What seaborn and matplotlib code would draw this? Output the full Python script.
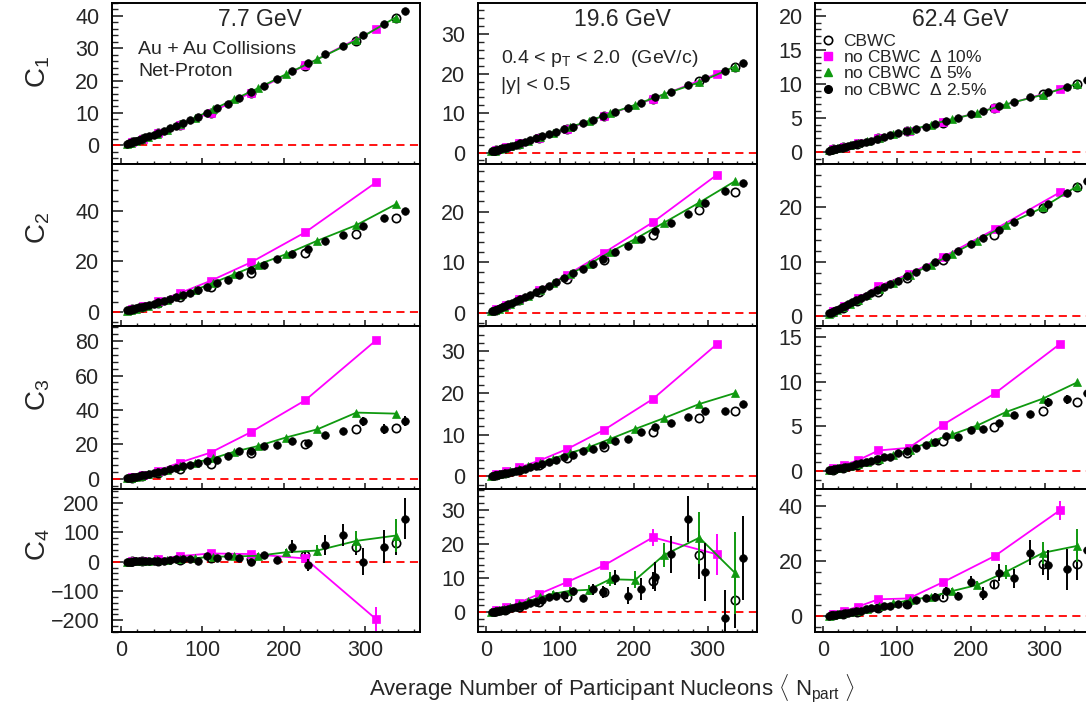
import matplotlib
matplotlib.use('Agg')
import matplotlib.pyplot as plt
from matplotlib.lines import Line2D
from matplotlib.ticker import MultipleLocator
import seaborn as sns

# ---- centrality bin positions (<Npart>) ----
npart_cbwc = [337, 289, 226, 160, 110, 72, 45, 26, 14]
npart_d10 = [313, 226, 160, 110, 72, 45, 27, 14]
npart_d5 = [337, 289, 241, 202, 168, 139, 113, 91, 73, 57, 44, 33, 24.5, 18, 12, 7]
npart_d25 = [348, 323, 297, 273, 250, 229, 210, 192, 175, 159, 145, 131, 118, 106, 95, 85,
             76, 68, 60, 53, 46, 40, 35, 30, 26, 22, 19, 16, 14, 12, 10, 8]

npart_cbwc_624 = [344, 298, 232, 163, 114, 75, 46, 27, 14]
npart_d10_624 = [321, 233, 163, 116, 75, 47, 28, 14]
npart_d5_624 = [344, 298, 248, 209, 175, 146, 118, 95, 76, 60, 47, 36, 27, 19, 13, 8]
npart_d25_624 = [357, 331, 305, 280, 258, 238, 217, 200, 183, 167, 152, 139, 126, 113, 101, 91,
                 82, 73, 65, 58, 51, 45, 39, 34, 29, 25, 21, 18, 15, 12.5, 10, 8]

# ---- 7.7 GeV ----
c1_77_cbwc = [39.5, 32.3, 24.5, 16.3, 10.1, 6.2, 3.7, 1.9, 0.9]
c1_77_d10 = [35.9, 24.7, 16.3, 10.1, 6.3, 3.7, 2.0, 0.9]
c1_77_d5 = [39.5, 32.5, 26.6, 21.9, 17.6, 14.2, 11.1, 8.5, 6.5, 4.8, 3.6, 2.6, 1.8, 1.3, 0.8, 0.4]
c1_77_d25 = [41.5, 37.4, 34.0, 30.7, 28.1, 25.3, 22.9, 20.6, 18.3, 16.4, 14.6, 12.8, 11.4, 10.0, 8.8, 7.7,
             6.8, 6.0, 5.2, 4.5, 3.8, 3.3, 2.8, 2.4, 2.0, 1.7, 1.4, 1.2, 1.0, 0.8, 0.65, 0.5]

c2_77_cbwc = [37.0, 30.8, 23.4, 15.4, 9.7, 5.6, 3.3, 1.8, 0.9]
c2_77_d10 = [51.2, 31.4, 19.6, 12.2, 7.3, 4.2, 2.2, 1.0]
c2_77_d5 = [42.5, 34.3, 28.1, 22.7, 18.6, 14.8, 11.4, 8.6, 6.5, 4.7, 3.4, 2.4, 1.7, 1.2, 0.7, 0.4]
c2_77_d25 = [39.9, 37.2, 33.9, 30.4, 27.9, 25.0, 22.7, 20.7, 18.4, 16.4, 14.4, 12.7, 11.2, 9.9, 8.6, 7.5,
             6.6, 5.8, 5.0, 4.4, 3.8, 3.2, 2.8, 2.4, 2.0, 1.7, 1.4, 1.2, 1.0, 0.8, 0.65, 0.5]

c3_77_cbwc = [29.6, 29.0, 20.3, 15.1, 8.7, 5.6, 3.4, 1.8, 0.8]
c3_77_d10 = [80.4, 45.6, 27.3, 15.3, 9.5, 4.8, 2.5, 1.0]
c3_77_d5 = [37.9, 38.5, 28.8, 24.0, 19.1, 15.8, 12.0, 9.5, 7.3, 5.3, 3.8, 2.7, 1.9, 1.3, 0.7, 0.3]
c3_77_d25 = [33.6, 29.0, 33.4, 27.7, 25.3, 20.9, 21.9, 19.9, 19.0, 16.5, 16.0, 13.1, 11.2, 10.4, 9.0, 8.4,
             7.3, 6.4, 5.6, 4.9, 4.2, 3.6, 3.0, 2.5, 2.1, 1.7, 1.4, 1.1, 0.9, 0.7, 0.55, 0.4]
c3_77_d25_err = [3.0, 3.0, 2.5, 2.0, 1.5, 1.2, 1.0, 0.8, 0.7, 0.6, 0.5, 0.4, 0.3, 0.3, 0.2, 0.2,
                 0.2, 0.1, 0.1, 0.1, 0.1, 0.1, 0.1, 0.1, 0.1, 0.1, 0.1, 0.1, 0.1, 0.1, 0.1, 0.1]

c4_77_cbwc = [65, 49, 23, 10, 12, 7, 4, 2, 0.8]
c4_77_cbwc_err = [42, 25, 12, 5, 3, 2, 1, 0.5, 0.3]
c4_77_d10 = [-196, 11, 26, 28, 19, 8, 3.5, 1.2]
c4_77_d10_err = [40, 12, 5, 3, 2, 1, 0.5, 0.3]
c4_77_d5 = [89, 71, 38, 32, 20, 18, 17, 12, 10, 7, 5, 3.5, 2.4, 1.6, 1.0, 0.5]
c4_77_d5_err = [57, 35, 20, 12, 8, 5, 4, 3, 2, 1.5, 1, 0.8, 0.5, 0.4, 0.3, 0.2]
c4_77_d25 = [146, 51, 0, 91, 57, -11, 51, 6, 22, -2, 12, 19, 12, 20, 3, 10,
             9, 8, 5, 4, 3, 2.5, 2, 1.6, 1.3, 1.0, 0.8, 0.6, 0.5, 0.4, 0.3, 0.2]
c4_77_d25_err = [70, 57, 45, 39, 34, 20, 23, 10, 10, 7, 6, 5, 4, 4, 3, 3,
                 2, 2, 1.5, 1.2, 1, 0.8, 0.6, 0.5, 0.4, 0.3, 0.3, 0.2, 0.2, 0.1, 0.1, 0.1]

# ---- 19.6 GeV ----
c1_196_cbwc = [21.8, 18.2, 13.6, 9.2, 5.9, 3.7, 2.2, 1.2, 0.6]
c1_196_d10 = [20.0, 13.6, 9.3, 6.0, 3.8, 2.3, 1.3, 0.6]
c1_196_d5 = [21.8, 17.8, 14.8, 12.1, 9.9, 8.0, 6.4, 5.0, 3.9, 3.0, 2.2, 1.6, 1.15, 0.8, 0.5, 0.3]
c1_196_d25 = [22.6, 20.6, 18.8, 17.0, 15.4, 14.0, 12.6, 11.4, 10.3, 9.2, 8.3, 7.4, 6.6, 5.9, 5.2, 4.6,
              4.1, 3.6, 3.1, 2.7, 2.35, 2.0, 1.75, 1.5, 1.25, 1.05, 0.9, 0.75, 0.62, 0.5, 0.4, 0.3]

c2_196_cbwc = [23.9, 20.3, 15.3, 10.4, 6.7, 4.1, 2.5, 1.3, 0.6]
c2_196_d10 = [27.3, 17.9, 11.9, 7.5, 4.6, 2.7, 1.5, 0.7]
c2_196_d5 = [26.0, 21.8, 17.8, 14.6, 12.0, 9.6, 7.6, 5.9, 4.6, 3.4, 2.5, 1.8, 1.25, 0.85, 0.5, 0.3]
c2_196_d25 = [25.7, 24.0, 21.6, 19.6, 17.8, 16.2, 14.6, 13.2, 12.0, 10.6, 9.6, 8.7, 7.8, 6.9, 6.1, 5.4,
              4.7, 4.1, 3.6, 3.1, 2.7, 2.3, 1.95, 1.65, 1.4, 1.15, 0.95, 0.8, 0.65, 0.5, 0.4, 0.3]

c3_196_cbwc = [15.6, 14.1, 10.6, 7.0, 4.4, 2.7, 1.5, 0.8, 0.35]
c3_196_d10 = [31.8, 18.6, 11.2, 6.6, 3.8, 2.2, 1.2, 0.5]
c3_196_d5 = [20.0, 17.4, 14.0, 11.4, 9.0, 7.0, 5.6, 4.3, 3.2, 2.4, 1.7, 1.2, 0.8, 0.55, 0.3, 0.15]
c3_196_d25 = [17.5, 15.6, 15.8, 14.3, 12.8, 11.9, 10.6, 9.0, 8.4, 7.6, 6.6, 6.0, 5.2, 4.6, 4.0, 3.5,
              3.0, 2.6, 2.2, 1.9, 1.6, 1.35, 1.1, 0.9, 0.75, 0.6, 0.5, 0.4, 0.32, 0.25, 0.2, 0.15]

c4_196_cbwc = [3.5, 16.8, 9.3, 6.0, 4.6, 2.9, 1.6, 0.8, 0.3]
c4_196_cbwc_err = [8, 7, 2.5, 1.5, 0.8, 0.5, 0.3, 0.2, 0.1]
c4_196_d10 = [17.0, 22.0, 13.8, 8.9, 5.4, 2.8, 1.4, 0.6]
c4_196_d10_err = [6, 2.5, 1.2, 0.8, 0.5, 0.3, 0.2, 0.1]
c4_196_d5 = [11.6, 21.9, 16.8, 9.5, 9.7, 6.6, 6.3, 5.4, 4.4, 3.2, 2.3, 1.6, 1.0, 0.7, 0.4, 0.2]
c4_196_d5_err = [12, 7.6, 3.5, 2.5, 2, 1.5, 1, 0.7, 0.5, 0.4, 0.3, 0.2, 0.1, 0.1, 0.1, 0.1]
c4_196_d25 = [16.0, -1.6, 11.7, 27.3, 17.0, 10.4, 6.9, 4.9, 10.1, 5.9, 6.7, 4.1, 6.1, 5.0, 4.9, 4.5,
              3.5, 3.0, 2.6, 2.2, 1.8, 1.5, 1.2, 1.0, 0.8, 0.6, 0.5, 0.4, 0.3, 0.2, 0.15, 0.1]
c4_196_d25_err = [12.4, 8.0, 8.5, 6.8, 5.5, 4.3, 3.2, 2.5, 2.2, 1.8, 1.5, 1.0, 0.8, 0.7, 0.6, 0.5,
                  0.4, 0.3, 0.3, 0.2, 0.2, 0.2, 0.1, 0.1, 0.1, 0.1, 0.1, 0.1, 0.1, 0.1, 0.1, 0.1]

# ---- 62.4 GeV ----
c1_624_cbwc = [10.0, 8.5, 6.4, 4.3, 3.0, 2.0, 1.2, 0.7, 0.35]
c1_624_d10 = [9.2, 6.5, 4.4, 3.1, 2.1, 1.3, 0.75, 0.35]
c1_624_d5 = [10.0, 8.4, 7.0, 5.7, 4.8, 4.0, 3.2, 2.6, 2.05, 1.6, 1.25, 0.95, 0.7, 0.5, 0.35, 0.2]
c1_624_d25 = [10.6, 9.5, 8.8, 8.0, 7.3, 6.7, 6.0, 5.5, 4.9, 4.5, 4.1, 3.7, 3.4, 3.0, 2.7, 2.4,
              2.15, 1.9, 1.65, 1.45, 1.25, 1.1, 0.95, 0.8, 0.7, 0.6, 0.5, 0.42, 0.35, 0.28, 0.22, 0.17]

c2_624_cbwc = [23.7, 19.9, 15.0, 10.3, 7.0, 4.5, 2.7, 1.5, 0.7]
c2_624_d10 = [22.8, 16.0, 10.9, 7.7, 5.5, 3.3, 1.9, 0.9]
c2_624_d5 = [23.9, 20.0, 16.8, 13.9, 11.4, 9.4, 7.6, 6.1, 4.9, 3.8, 2.9, 2.2, 1.6, 1.1, 0.75, 0.4]
c2_624_d25 = [24.8, 22.7, 20.7, 19.1, 17.3, 15.8, 14.4, 13.2, 12.0, 10.8, 9.9, 9.0, 8.1, 7.3, 6.5, 5.9,
              5.3, 4.7, 4.2, 3.7, 3.3, 2.9, 2.5, 2.2, 1.85, 1.6, 1.35, 1.15, 0.95, 0.8, 0.6, 0.5]

c3_624_cbwc = [7.7, 6.7, 4.9, 3.4, 2.0, 1.2, 0.7, 0.4, 0.15]
c3_624_d10 = [14.2, 8.7, 5.2, 2.6, 2.3, 1.2, 0.7, 0.3]
c3_624_d5 = [9.9, 8.1, 6.6, 5.1, 4.1, 3.3, 2.4, 1.8, 1.4, 1.05, 0.8, 0.6, 0.45, 0.3, 0.2, 0.1]
c3_624_d25 = [8.7, 8.0, 7.7, 6.4, 6.3, 5.4, 4.7, 4.6, 3.8, 3.9, 3.3, 2.9, 2.6, 2.2, 2.0, 1.6,
              1.6, 1.3, 1.15, 1.0, 0.85, 0.75, 0.6, 0.5, 0.45, 0.38, 0.3, 0.25, 0.2, 0.15, 0.12, 0.1]
c3_624_d25_err = [0.6, 0.5, 0.5, 0.3, 0.3, 0.2, 0.2, 0.2, 0.1, 0.1, 0.1, 0.1, 0.1, 0.1, 0.1, 0.1,
                  0.1, 0.1, 0.1, 0.1, 0.1, 0.1, 0.1, 0.1, 0.1, 0.1, 0.1, 0.1, 0.1, 0.1, 0.1, 0.1]

c4_624_cbwc = [19.0, 19.0, 11.5, 7.0, 4.5, 2.8, 1.6, 0.8, 0.3]
c4_624_cbwc_err = [6, 4, 1.5, 0.8, 0.5, 0.3, 0.2, 0.1, 0.1]
c4_624_d10 = [38.5, 21.9, 12.4, 6.4, 6.1, 3.4, 1.8, 0.7]
c4_624_d10_err = [3.5, 1.2, 0.8, 0.5, 0.3, 0.2, 0.1, 0.1]
c4_624_d5 = [25.5, 23.0, 16.1, 11.3, 9.1, 7.0, 5.8, 4.6, 3.6, 2.7, 2.0, 1.5, 1.0, 0.7, 0.4, 0.2]
c4_624_d5_err = [6, 4, 2.5, 1.5, 1, 0.7, 0.5, 0.4, 0.3, 0.2, 0.2, 0.1, 0.1, 0.1, 0.1, 0.1]
c4_624_d25 = [24, 17, 18.5, 23, 13.7, 15.8, 8.2, 12.4, 7.4, 9.2, 7.1, 6.5, 6.0, 4.3, 4.4, 3.8,
              3.6, 3.0, 2.8, 2.4, 2.0, 1.7, 1.4, 1.2, 1.0, 0.8, 0.65, 0.5, 0.4, 0.3, 0.22, 0.15]
c4_624_d25_err = [9, 7.5, 5.5, 4.5, 3.5, 3, 2.5, 2, 1.5, 1.5, 1.2, 1, 0.8, 0.7, 0.6, 0.5,
                  0.4, 0.4, 0.3, 0.3, 0.2, 0.2, 0.2, 0.1, 0.1, 0.1, 0.1, 0.1, 0.1, 0.1, 0.1, 0.1]

energies = ['7.7 GeV', '19.6 GeV', '62.4 GeV']
row_labels = ['C$_{1}$', 'C$_{2}$', 'C$_{3}$', 'C$_{4}$']

# axis ranges and tick steps (major, minor) per [row][col]
ylims = [[(-5.8, 44), (-2.9, 37.9), (-1.8, 21.9)],
         [(-5.7, 58.5), (-2.6, 29.4), (-1.85, 28.0)],
         [(-5.8, 88.7), (-3.0, 36.1), (-2.0, 16.2)],
         [(-240, 248), (-5.8, 36.2), (-5.8, 46.2)]]
ysteps = [[(10, 2), (10, 2), (5, 1)],
          [(20, 4), (10, 2), (10, 2)],
          [(20, 4), (10, 2), (5, 1)],
          [(100, 20), (10, 2), (20, 4)]]

sns.set_style('ticks')
plt.rcParams['font.family'] = ['Liberation Sans', 'DejaVu Sans']
plt.rcParams['mathtext.fontset'] = 'custom'
plt.rcParams['mathtext.rm'] = 'Liberation Sans'
plt.rcParams['mathtext.it'] = 'Liberation Sans:italic'
plt.rcParams['mathtext.bf'] = 'Liberation Sans:bold'

MAGENTA = '#ff00ff'
GREEN = '#0f990f'

W, H = 1086, 715
col_px = [(112, 420), (478, 757), (815, 1094)]
row_px = [(3, 164), (164, 326), (326, 489), (489, 632)]

fig = plt.figure(figsize=(W / 100, H / 100), dpi=100)


def draw_series(ax, x, y, err, color, marker, ms, filled, line, z):
    if err is not None:
        ax.errorbar(x, y, yerr=err, fmt='none', ecolor=color, elinewidth=1.4,
                    capsize=0, zorder=z)
    sns.lineplot(x=x, y=y, ax=ax, sort=False, estimator=None, legend=False,
                 color=color, marker=marker, markersize=ms,
                 linestyle='-' if line else 'none', linewidth=1.3,
                 markeredgecolor=color,
                 markerfacecolor=color if filled else 'none',
                 markeredgewidth=1.2 if not filled else 0.5, zorder=z + 0.5)


panels = [
    [(npart_cbwc, c1_77_cbwc, None, npart_d10, c1_77_d10, None, npart_d5, c1_77_d5, None, npart_d25, c1_77_d25, None),
     (npart_cbwc, c1_196_cbwc, None, npart_d10, c1_196_d10, None, npart_d5, c1_196_d5, None, npart_d25, c1_196_d25, None),
     (npart_cbwc_624, c1_624_cbwc, None, npart_d10_624, c1_624_d10, None, npart_d5_624, c1_624_d5, None, npart_d25_624, c1_624_d25, None)],
    [(npart_cbwc, c2_77_cbwc, None, npart_d10, c2_77_d10, None, npart_d5, c2_77_d5, None, npart_d25, c2_77_d25, None),
     (npart_cbwc, c2_196_cbwc, None, npart_d10, c2_196_d10, None, npart_d5, c2_196_d5, None, npart_d25, c2_196_d25, None),
     (npart_cbwc_624, c2_624_cbwc, None, npart_d10_624, c2_624_d10, None, npart_d5_624, c2_624_d5, None, npart_d25_624, c2_624_d25, None)],
    [(npart_cbwc, c3_77_cbwc, None, npart_d10, c3_77_d10, None, npart_d5, c3_77_d5, None, npart_d25, c3_77_d25, c3_77_d25_err),
     (npart_cbwc, c3_196_cbwc, None, npart_d10, c3_196_d10, None, npart_d5, c3_196_d5, None, npart_d25, c3_196_d25, None),
     (npart_cbwc_624, c3_624_cbwc, None, npart_d10_624, c3_624_d10, None, npart_d5_624, c3_624_d5, None, npart_d25_624, c3_624_d25, c3_624_d25_err)],
    [(npart_cbwc, c4_77_cbwc, c4_77_cbwc_err, npart_d10, c4_77_d10, c4_77_d10_err, npart_d5, c4_77_d5, c4_77_d5_err, npart_d25, c4_77_d25, c4_77_d25_err),
     (npart_cbwc, c4_196_cbwc, c4_196_cbwc_err, npart_d10, c4_196_d10, c4_196_d10_err, npart_d5, c4_196_d5, c4_196_d5_err, npart_d25, c4_196_d25, c4_196_d25_err),
     (npart_cbwc_624, c4_624_cbwc, c4_624_cbwc_err, npart_d10_624, c4_624_d10, c4_624_d10_err, npart_d5_624, c4_624_d5, c4_624_d5_err, npart_d25_624, c4_624_d25, c4_624_d25_err)],
]

axes = []
for r, (top, bot) in enumerate(row_px):
    row_axes = []
    for c, (left, right) in enumerate(col_px):
        ax = fig.add_axes([left / W, 1 - bot / H, (right - left) / W, (bot - top) / H])
        (xc, yc, ec, x10, y10, e10, x5, y5, e5, x25, y25, e25) = panels[r][c]
        ax.axhline(0, color='red', linewidth=1.3, dashes=(4.5, 3), zorder=1)
        draw_series(ax, xc, yc, ec, 'black', 'o', 6, False, False, 2)
        draw_series(ax, x10, y10, e10, MAGENTA, 's', 5.5, True, True, 3)
        draw_series(ax, x5, y5, e5, GREEN, '^', 5.5, True, True, 4)
        draw_series(ax, x25, y25, e25, 'black', 'o', 5.5, True, False, 5)

        ax.set_xlim(-11, 367)
        ax.set_ylim(*ylims[r][c])
        ax.xaxis.set_major_locator(MultipleLocator(100))
        ax.xaxis.set_minor_locator(MultipleLocator(20))
        ax.yaxis.set_major_locator(MultipleLocator(ysteps[r][c][0]))
        ax.yaxis.set_minor_locator(MultipleLocator(ysteps[r][c][1]))
        ax.tick_params(axis='y', which='major', direction='in', length=8, width=1.2,
                       labelsize=15.5, pad=9, right=False)
        ax.tick_params(axis='y', which='minor', direction='in', length=4, width=1.0, right=False)
        ax.tick_params(axis='x', which='major', direction='in', length=4, width=1.2,
                       labelsize=15.5, pad=6, top=False, labelbottom=(r == 3))
        ax.tick_params(axis='x', which='minor', direction='in', length=2.5, width=1.0, top=False)
        for sp in ax.spines.values():
            sp.set_linewidth(1.4)
            sp.set_color('black')
        ax.set_xlabel('')
        ax.set_ylabel('')
        row_axes.append(ax)
    axes.append(row_axes)

# row labels
for r, yc in enumerate([72, 228, 395, 545]):
    fig.text(38 / W, 1 - yc / H, row_labels[r], rotation=90, fontsize=20,
             ha='center', va='center')

# energy titles
for c, xc in enumerate([260, 622, 960]):
    fig.text(xc / W, 1 - 20 / H, energies[c], fontsize=16.5, ha='center', va='center')

fig.text(138 / W, 1 - 54 / H, 'Au + Au Collisions', fontsize=14, ha='left', va='baseline')
fig.text(138 / W, 1 - 76 / H, 'Net-Proton', fontsize=14, ha='left', va='baseline')
fig.text(501 / W, 1 - 63 / H, r'0.4 < p$_{\mathrm{T}}$ < 2.0  (GeV/c)', fontsize=14,
         ha='left', va='baseline')
fig.text(501 / W, 1 - 90 / H, '|y| < 0.5', fontsize=14, ha='left', va='baseline')

fig.text(612 / W, 1 - 689 / H,
         r'Average Number of Participant Nucleons $\langle$ N$_{\mathrm{part}}$ $\rangle$',
         fontsize=16, ha='center', va='center')

# legend in the 62.4 GeV C1 panel
handles = [
    Line2D([], [], marker='o', ls='none', mfc='none', mec='black', mew=1.2, ms=6),
    Line2D([], [], marker='s', ls='none', mfc=MAGENTA, mec=MAGENTA, ms=5.5),
    Line2D([], [], marker='^', ls='none', mfc=GREEN, mec=GREEN, ms=5.5),
    Line2D([], [], marker='o', ls='none', mfc='black', mec='black', ms=5.5),
]
labels = ['CBWC', 'no CBWC  $\\Delta$ 10%', 'no CBWC  $\\Delta$ 5%', 'no CBWC  $\\Delta$ 2.5%']
axes[0][2].legend(handles, labels, loc='upper left', bbox_to_anchor=(0.02, 0.81),
                  frameon=False, fontsize=12.5, handlelength=0.8, handletextpad=0.5,
                  labelspacing=0.02, borderpad=0, borderaxespad=0)

fig.savefig('out.png', dpi=100)
